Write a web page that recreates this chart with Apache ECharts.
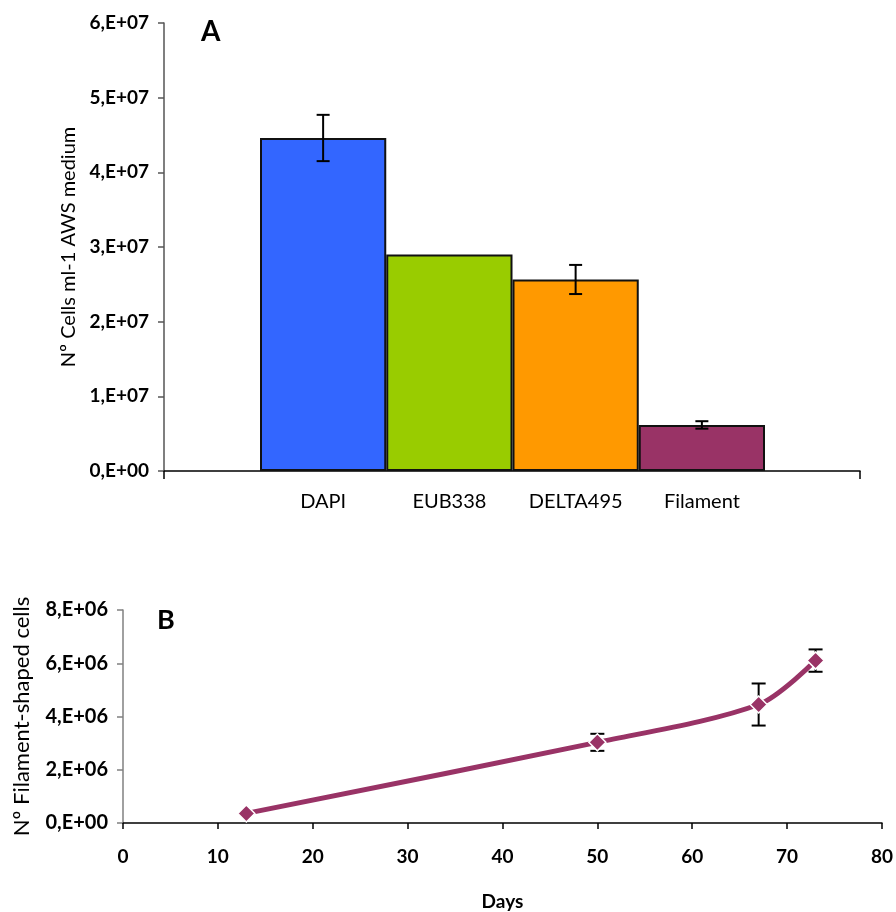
<!DOCTYPE html>
<html>
<head>
<meta charset="utf-8">
<script src="https://cdn.jsdelivr.net/npm/echarts@6/dist/echarts.min.js"></script>
<style>
html,body{margin:0;padding:0;background:#fff;}
#chart{width:896px;height:912px;}
</style>
</head>
<body>
<div id="chart"></div>
<script>
// ---- Panel A data ----
const categories = ['DAPI', 'EUB338', 'DELTA495', 'Filament'];
const cellCounts = [4.46e7, 2.90e7, 2.565e7, 0.617e7];
const cellErrors = [0.31e7, 0, 0.195e7, 0.05e7];
const barColors = ['#3366FF', '#99CC00', '#FF9900', '#993366'];

// ---- Panel B data ----
const days = [13, 50, 67, 73];
const filamentCells = [0.36e6, 3.03e6, 4.45e6, 6.10e6];
const filamentErrors = [0, 0.32e6, 0.79e6, 0.42e6];

const FONT = 'Lato, "Open Sans", sans-serif';

function sciLabel(v) {
  if (v === 0) return '0,E+00';
  const e = Math.floor(Math.log10(v) + 1e-9);
  const m = Math.round(v / Math.pow(10, e));
  return m + ',E+' + (e < 10 ? '0' + e : e);
}

function errorBarItem(capHalf) {
  return function (params, api) {
    const x = api.value(0), y = api.value(1), err = api.value(2);
    if (!err) return null;
    const top = api.coord([x, y + err]);
    const bot = api.coord([x, y - err]);
    const style = { stroke: '#000', lineWidth: 2 };
    return {
      type: 'group',
      children: [
        { type: 'line', shape: { x1: top[0], y1: top[1], x2: bot[0], y2: bot[1] }, style: style },
        { type: 'line', shape: { x1: top[0] - capHalf, y1: top[1], x2: top[0] + capHalf, y2: top[1] }, style: style },
        { type: 'line', shape: { x1: bot[0] - capHalf, y1: bot[1], x2: bot[0] + capHalf, y2: bot[1] }, style: style }
      ]
    };
  };
}

const chart = echarts.init(document.getElementById('chart'), null, { renderer: 'canvas' });

const option = {
  backgroundColor: '#fff',
  animation: false,
  title: [
    { text: 'A', left: 196, top: 13, textStyle: { fontFamily: FONT, fontWeight: 'bold', fontSize: 28, color: '#000' } },
    { text: 'B', left: 152, top: 602, textStyle: { fontFamily: FONT, fontWeight: 'bold', fontSize: 27, color: '#000' } }
  ],
  grid: [
    { left: 164, right: 36, top: 23, bottom: 441 },
    { left: 260, right: 131, top: 23, bottom: 441 },
    { left: 123, right: 13, top: 610, bottom: 88 }
  ],
  xAxis: [
    {
      gridIndex: 0, type: 'value', min: 0, max: 1, interval: 1,
      axisLine: { lineStyle: { color: '#000', width: 1.5 } },
      axisTick: { show: true, length: 8, lineStyle: { color: '#000', width: 1.5 } },
      axisLabel: { show: false }, splitLine: { show: false }
    },
    {
      gridIndex: 1, type: 'category', data: categories,
      axisLine: { show: false }, axisTick: { show: false },
      axisLabel: { fontFamily: FONT, fontSize: 20, color: '#000', margin: 21 }
    },
    {
      gridIndex: 2, type: 'value', min: 0, max: 80, interval: 10,
      axisLine: { lineStyle: { color: '#000', width: 1.5 } },
      axisTick: { show: true, length: 6, lineStyle: { color: '#000', width: 1.5 } },
      axisLabel: { fontFamily: FONT, fontSize: 19, fontWeight: 'bold', color: '#000', margin: 24 },
      splitLine: { show: false },
      name: 'Days', nameLocation: 'middle', nameGap: 69,
      nameTextStyle: { fontFamily: FONT, fontSize: 19, fontWeight: 'bold', color: '#000' }
    }
  ],
  yAxis: [
    {
      gridIndex: 0, type: 'value', min: 0, max: 6e7, interval: 1e7,
      axisLine: { show: true, lineStyle: { color: '#555', width: 1.5 } },
      axisTick: { show: true, length: 6, lineStyle: { color: '#555', width: 1.5 } },
      axisLabel: { fontFamily: FONT, fontSize: 19, fontWeight: 'bold', color: '#000', margin: 15, formatter: sciLabel },
      splitLine: { show: false },
      name: 'Nº Cells ml-1 AWS medium', nameLocation: 'middle', nameGap: 82,
      nameTextStyle: { fontFamily: FONT, fontSize: 20, color: '#000' }
    },
    {
      gridIndex: 1, type: 'value', min: 0, max: 6e7, show: false
    },
    {
      gridIndex: 2, type: 'value', min: 0, max: 8e6, interval: 2e6,
      axisLine: { show: true, lineStyle: { color: '#808080', width: 1.5 } },
      axisTick: { show: true, length: 6, lineStyle: { color: '#808080', width: 1.5 } },
      axisLabel: { fontFamily: FONT, fontSize: 20, fontWeight: 'bold', color: '#000', margin: 15, formatter: sciLabel },
      splitLine: { show: false },
      name: 'Nº Filament-shaped cells', nameLocation: 'middle', nameGap: 90,
      nameTextStyle: { fontFamily: FONT, fontSize: 22, color: '#000' }
    }
  ],
  series: [
    {
      type: 'bar', xAxisIndex: 1, yAxisIndex: 1, barCategoryGap: 0,
      data: cellCounts.map((v, i) => ({ value: v, itemStyle: { color: barColors[i] } })),
      itemStyle: { borderColor: '#111', borderWidth: 2 }
    },
    {
      type: 'custom', xAxisIndex: 1, yAxisIndex: 1, z: 10,
      renderItem: errorBarItem(6.5),
      data: cellCounts.map((v, i) => [i, v, cellErrors[i]])
    },
    {
      type: 'line', xAxisIndex: 2, yAxisIndex: 2, smooth: 0.3,
      data: days.map((d, i) => [d, filamentCells[i]]),
      lineStyle: { color: '#993366', width: 5 },
      symbol: 'diamond', symbolSize: 17,
      itemStyle: { color: '#993366', borderColor: '#fff', borderWidth: 1.5 },
      z: 5
    },
    {
      type: 'custom', xAxisIndex: 2, yAxisIndex: 2, z: 4,
      renderItem: errorBarItem(7),
      data: days.map((d, i) => [d, filamentCells[i], filamentErrors[i]])
    }
  ]
};
chart.setOption(option);
</script>
</body>
</html>
